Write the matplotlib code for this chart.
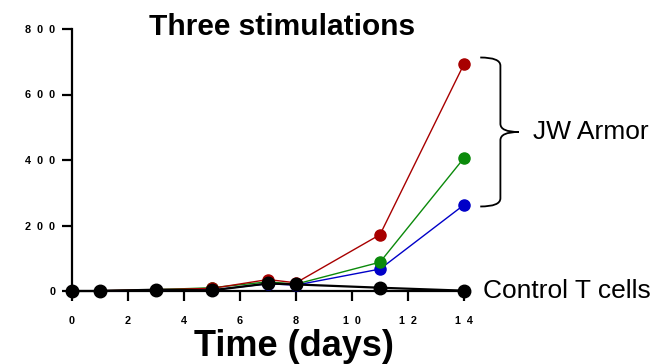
import matplotlib.pyplot as plt
import numpy as np
from matplotlib.path import Path
from matplotlib.patches import PathPatch

plt.rcParams['font.family'] = ['Liberation Sans', 'DejaVu Sans']

# data (days, cell counts)
days = [0, 1, 3, 5, 7, 8, 11, 14]
armor_red = [0, 1, 4, 8, 35, 25, 172, 693]
armor_green = [0, 1, 4, 10, 28, 21, 88, 406]
armor_blue = [0, 1, 3, 3, 22, 18, 67, 263]
control = [0, 0, 4, 2, 23, 20, 10, 1]

xticks = [0, 2, 4, 6, 8, 10, 12, 14]
yticks = [0, 200, 400, 600, 800]

fig = plt.figure(figsize=(6.57, 3.64), dpi=100)
ax = fig.add_axes([72 / 657, 73 / 364, 392 / 657, 262 / 364])

for vals, col in [(armor_blue, '#0000c8'), (armor_green, '#0b8a0b'), (armor_red, '#a80000')]:
    ax.plot(days, vals, color=col, lw=1.0, marker='o', ms=8, clip_on=False, zorder=3)
ax.plot(days, control, color='black', lw=1.6, marker='o', ms=9, clip_on=False, zorder=4)

ax.set_xlim(0, 14)
ax.set_ylim(0, 800)
ax.set_xticks(xticks)
ax.set_yticks(yticks)
spaced = lambda v: '  '.join(str(v))
ax.set_xticklabels([spaced(v) for v in xticks], fontsize=7.8, fontweight='bold')
ax.set_yticklabels([spaced(v) for v in yticks], fontsize=7.8, fontweight='bold')
ax.tick_params(axis='both', length=7, width=1.6, color='black')
ax.tick_params(axis='x', pad=11)
ax.tick_params(axis='y', pad=5)
for s in ['top', 'right']:
    ax.spines[s].set_visible(False)
for s in ['left', 'bottom']:
    ax.spines[s].set_linewidth(1.6)

fig.text(282 / 657, 1 - 27 / 364, 'Three stimulations', ha='center', va='center',
         fontsize=21.5, fontweight='bold')
fig.text(294 / 657, 1 - 347 / 364, 'Time (days)', ha='center', va='center',
         fontsize=26, fontweight='bold')

# curly brace around the JW Armor endpoints
top = armor_red[-1] + 20
bot = armor_blue[-1] - 5
mid = (top + bot) / 2
x0, xv, xt = 14.58, 15.3, 15.95
r = 25
verts = [(x0, top), (xv, top), (xv, top - r),
         (xv, mid + r), (xv, mid), (xt, mid),
         (xv, mid), (xv, mid - r),
         (xv, bot + r), (xv, bot), (x0, bot)]
codes = [Path.MOVETO, Path.CURVE3, Path.CURVE3,
         Path.LINETO, Path.CURVE3, Path.CURVE3,
         Path.CURVE3, Path.CURVE3,
         Path.LINETO, Path.CURVE3, Path.CURVE3]
brace = PathPatch(Path(verts, codes), fill=False, lw=1.3, edgecolor='black', clip_on=False)
ax.add_patch(brace)

ax.text(16.45, mid, 'JW Armor', fontsize=19, va='center', ha='left', clip_on=False)
ax.text(14.68, control[-1], 'Control T cells', fontsize=19, va='center', ha='left', clip_on=False)

fig.savefig('out.png', dpi=100)
